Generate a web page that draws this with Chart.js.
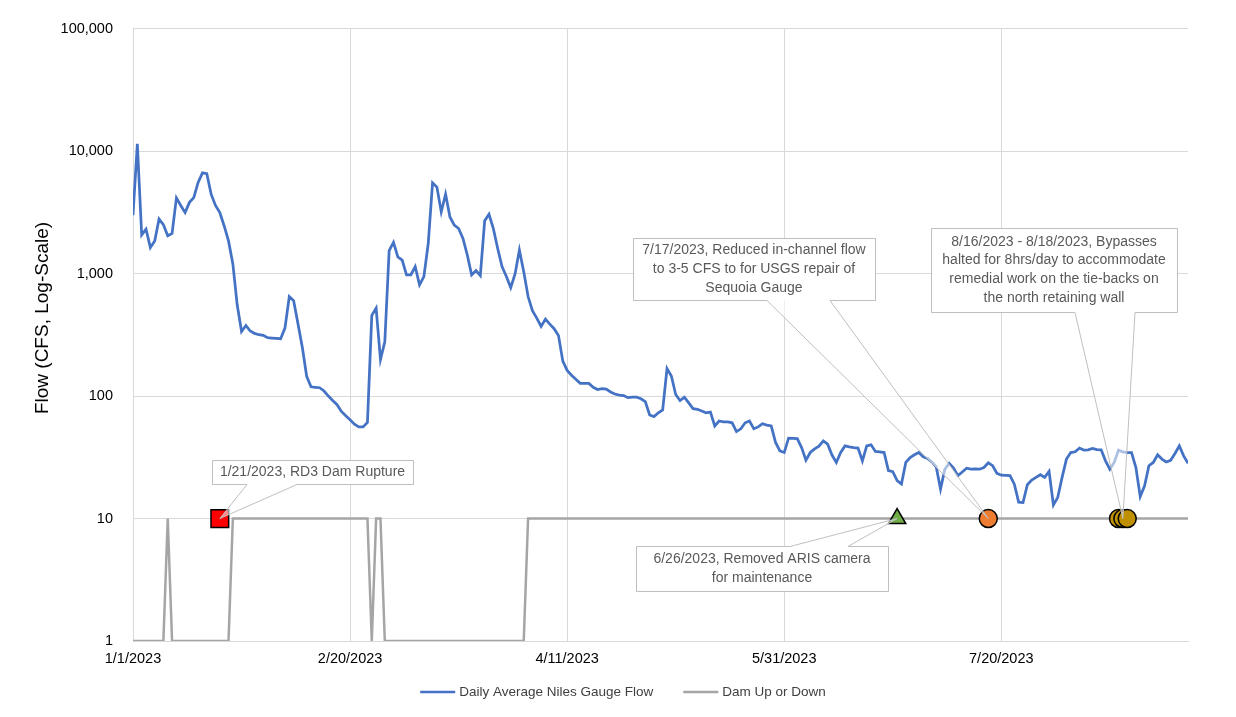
<!DOCTYPE html>
<html>
<head>
<meta charset="utf-8">
<title>Niles Gauge Flow</title>
<script src="https://cdn.jsdelivr.net/npm/chart.js@4.4.0/dist/chart.umd.min.js"></script>
<style>
  html, body { margin: 0; padding: 0; background: #fff; }
  canvas { display: block; }
</style>
</head>
<body>
<canvas id="flowChart" width="1236" height="717"></canvas>
<script>
// daily average flow at Niles gauge (CFS), one value per day from 1/1/2023
const flow = [
  3000, 11500, 2070, 2310, 1630, 1845, 2790, 2515, 2040, 2130,
  4150, 3600, 3150, 3820, 4180, 5550, 6650, 6550, 4450, 3600,
  3150, 2450, 1850, 1200, 556, 337, 377, 340, 325, 317,
  313, 300, 298, 296, 294, 359, 650, 600, 390, 250,
  145, 119, 118, 117, 110, 100, 92, 85, 75, 69,
  64, 59, 56, 56, 61, 456, 522, 199, 277, 1540,
  1800, 1370, 1290, 975, 975, 1140, 810, 946, 1760, 5520,
  5090, 3190, 4450, 2900, 2490, 2335, 1935, 1420, 975, 1058,
  963, 2700, 3055, 2335, 1606, 1140, 946, 769, 994, 1558,
  1038, 650, 498, 433, 371, 425, 387, 355, 313, 193,
  162, 148, 137, 127, 127, 127, 118, 113, 115, 114,
  108, 104, 102, 101, 97, 98, 98, 95, 90, 70,
  68, 73, 77, 168, 146, 103, 92, 98, 88, 79,
  78, 75.5, 73, 74, 57, 62.6, 61.5, 61.5, 60.5, 51.3,
  54, 60.5, 62.6, 54, 56, 59.5, 58, 57, 41.8, 35.7,
  34.6, 45.3, 45.2, 45, 38, 30, 34.6, 37, 39, 43.1,
  40.5, 33, 28.7, 34.6, 39.2, 38.5, 38, 37.6, 29.6, 39.2,
  40, 35.3, 35, 34.6, 24.6, 24.1, 20.4, 19.1, 28.7, 31.5,
  33.2, 34.6, 31.9, 31, 29, 26.5, 17.4, 25.3, 28.2, 25.8,
  22.4, 24, 25.8, 25.3, 25.4, 25.3, 26.1, 28.5, 27, 23.4,
  22.6, 22.5, 22.4, 19.1, 13.6, 13.5, 18.9, 20.6, 21.7, 22.8,
  21.7, 24.3, 12.9, 14.9, 21.7, 30.6, 34.6, 35.1, 37.6, 36.2,
  36.4, 37.4, 36.6, 36.4, 29.6, 25.3, 28.7, 36.2, 35, 34.6,
  34.6, 26.1, 15.1, 18.5, 27, 28.7, 33.2, 30.6, 29, 29.9,
  34, 39.2, 32.5, 28.3
];

// dam status: 10 = up, 1 = down
const damStatus = [
  1, 1, 1, 1, 1, 1, 1, 1, 10, 1,
  1, 1, 1, 1, 1, 1, 1, 1, 1, 1,
  1, 1, 1, 10, 10, 10, 10, 10, 10, 10,
  10, 10, 10, 10, 10, 10, 10, 10, 10, 10,
  10, 10, 10, 10, 10, 10, 10, 10, 10, 10,
  10, 10, 10, 10, 10, 1, 10, 10, 1, 1,
  1, 1, 1, 1, 1, 1, 1, 1, 1, 1,
  1, 1, 1, 1, 1, 1, 1, 1, 1, 1,
  1, 1, 1, 1, 1, 1, 1, 1, 1, 1,
  1, 10, 10, 10, 10, 10, 10, 10, 10, 10,
  10, 10, 10, 10, 10, 10, 10, 10, 10, 10,
  10, 10, 10, 10, 10, 10, 10, 10, 10, 10,
  10, 10, 10, 10, 10, 10, 10, 10, 10, 10,
  10, 10, 10, 10, 10, 10, 10, 10, 10, 10,
  10, 10, 10, 10, 10, 10, 10, 10, 10, 10,
  10, 10, 10, 10, 10, 10, 10, 10, 10, 10,
  10, 10, 10, 10, 10, 10, 10, 10, 10, 10,
  10, 10, 10, 10, 10, 10, 10, 10, 10, 10,
  10, 10, 10, 10, 10, 10, 10, 10, 10, 10,
  10, 10, 10, 10, 10, 10, 10, 10, 10, 10,
  10, 10, 10, 10, 10, 10, 10, 10, 10, 10,
  10, 10, 10, 10, 10, 10, 10, 10, 10, 10,
  10, 10, 10, 10, 10, 10, 10, 10, 10, 10,
  10, 10, 10, 10, 10, 10, 10, 10, 10, 10,
  10, 10, 10, 10
];

// event days (days after 1/1/2023), plotted on the 10 line
const ruptureDays = [20];        // 1/21
const arisDays = [176];          // 6/26
const sequoiaDays = [197];       // 7/17
const bypassDays = [227, 228, 229]; // 8/16 - 8/18
const eventLevel = 10;

const yTicks = [1, 10, 100, 1000, 10000, 100000];
const xStep = 50;

const ruptureNote = ['1/21/2023, RD3 Dam Rupture'];
const arisNote = ['6/26/2023, Removed ARIS camera', 'for maintenance'];
const sequoiaNote = ['7/17/2023, Reduced in-channel flow', 'to 3-5 CFS to for USGS repair of', 'Sequoia Gauge'];
const bypassNote = ['8/16/2023 - 8/18/2023, Bypasses', 'halted for 8hrs/day to accommodate', 'remedial work on the tie-backs on', 'the north retaining wall'];

const FONT = '"Liberation Sans", Arial, sans-serif';

function dateLabel(day) {
  const d = new Date(2023, 0, 1 + day);
  return (d.getMonth() + 1) + '/' + d.getDate() + '/' + d.getFullYear();
}

const toPoints = (arr) => arr.map((v, i) => ({ x: i, y: v }));
const eventPoints = (days) => days.map(d => ({ x: d, y: eventLevel }));

// callout boxes: pixel box + pointer base on one edge, tip goes to the event marker
const callouts = [
  { lines: ruptureNote, day: ruptureDays[0], left: 212, top: 460, width: 201, height: 24, side: 'bottom', from: 247, to: 297 },
  { lines: arisNote, day: arisDays[0], left: 636, top: 546, width: 252, height: 45, side: 'top', from: 790, to: 848 },
  { lines: sequoiaNote, day: sequoiaDays[0], left: 633, top: 238, width: 242, height: 62, side: 'bottom', from: 767, to: 830 },
  { lines: bypassNote, day: bypassDays[1], left: 931, top: 228, width: 246, height: 84, side: 'bottom', from: 1075, to: 1135 }
];

const extras = {
  id: 'extras',
  afterDraw(chart) {
    const { ctx, scales: { x, y } } = chart;
    ctx.save();

    // y axis title
    ctx.save();
    ctx.translate(43, 318);
    ctx.rotate(-Math.PI / 2);
    ctx.font = '19px ' + FONT;
    ctx.fillStyle = '#000';
    ctx.textAlign = 'center';
    ctx.textBaseline = 'middle';
    ctx.fillText('Flow (CFS, Log-Scale)', 0, 0);
    ctx.restore();

    // callouts
    callouts.forEach(c => {
      const tx = x.getPixelForValue(c.day);
      const ty = y.getPixelForValue(eventLevel);
      const l = c.left + 0.5, t = c.top + 0.5;
      const r = l + c.width, b = t + c.height;
      const edge = c.side === 'top' ? t : b;

      ctx.fillStyle = '#fff';
      ctx.fillRect(l, t, c.width, c.height);

      ctx.beginPath();
      ctx.moveTo(c.from, edge);
      ctx.lineTo(tx, ty);
      ctx.lineTo(c.to, edge);
      ctx.closePath();
      ctx.fillStyle = 'rgba(255,255,255,0.55)';
      ctx.fill();

      ctx.beginPath();
      if (c.side === 'top') {
        ctx.moveTo(l, t);
        ctx.lineTo(c.from, t);
        ctx.lineTo(tx, ty);
        ctx.lineTo(c.to, t);
        ctx.lineTo(r, t);
        ctx.lineTo(r, b);
        ctx.lineTo(l, b);
      } else {
        ctx.moveTo(l, t);
        ctx.lineTo(r, t);
        ctx.lineTo(r, b);
        ctx.lineTo(c.to, b);
        ctx.lineTo(tx, ty);
        ctx.lineTo(c.from, b);
        ctx.lineTo(l, b);
      }
      ctx.closePath();
      ctx.strokeStyle = '#bfbfbf';
      ctx.lineWidth = 1;
      ctx.stroke();

      ctx.font = '14px ' + FONT;
      ctx.fillStyle = '#595959';
      ctx.textAlign = 'center';
      ctx.textBaseline = 'middle';
      const lh = 18.8;
      const y0 = c.top + (c.height - (c.lines.length - 1) * lh) / 2;
      c.lines.forEach((s, i) => ctx.fillText(s, c.left + c.width / 2, y0 + i * lh));
    });

    // legend (line series only)
    ctx.font = '13.5px ' + FONT;
    const items = chart.data.datasets.filter(d => d.inLegend);
    const sample = 35, gap = 4, spacing = 30;
    const widths = items.map(d => sample + gap + ctx.measureText(d.label).width);
    const total = widths.reduce((a, w) => a + w, 0) + spacing * (items.length - 1);
    let lx = 623 - total / 2;
    const ly = 692;
    items.forEach((d, i) => {
      ctx.beginPath();
      ctx.moveTo(lx, ly);
      ctx.lineTo(lx + sample, ly);
      ctx.strokeStyle = d.borderColor;
      ctx.lineWidth = 2.5;
      ctx.stroke();
      ctx.fillStyle = '#404040';
      ctx.textAlign = 'left';
      ctx.textBaseline = 'middle';
      ctx.fillText(d.label, lx + sample + gap, ly);
      lx += widths[i] + spacing;
    });

    ctx.restore();
  }
};

const tickFont = { family: FONT, size: 14.5 };

new Chart(document.getElementById('flowChart').getContext('2d'), {
  type: 'line',
  data: {
    datasets: [
      {
        label: 'Daily Average Niles Gauge Flow',
        data: toPoints(flow),
        borderColor: '#4472C4',
        borderWidth: 2.75,
        pointRadius: 0,
        tension: 0,
        order: 1,
        inLegend: true
      },
      {
        label: 'Dam Up or Down',
        data: toPoints(damStatus),
        borderColor: '#A5A5A5',
        borderWidth: 2.5,
        pointRadius: 0,
        tension: 0,
        order: 2,
        inLegend: true
      },
      {
        label: 'RD3 Dam Rupture',
        data: eventPoints(ruptureDays),
        showLine: false,
        pointStyle: 'rect',
        pointRadius: 12.5,
        backgroundColor: '#FF0000',
        borderColor: '#000',
        borderWidth: 1.5,
        order: 0
      },
      {
        label: 'Removed ARIS camera',
        data: eventPoints(arisDays),
        showLine: false,
        pointStyle: 'triangle',
        pointRadius: 10,
        backgroundColor: '#70AD47',
        borderColor: '#000',
        borderWidth: 1.5,
        order: 0
      },
      {
        label: 'Sequoia Gauge repair',
        data: eventPoints(sequoiaDays),
        showLine: false,
        pointStyle: 'circle',
        pointRadius: 9,
        backgroundColor: '#ED7D31',
        borderColor: '#000',
        borderWidth: 1.5,
        order: 0
      },
      {
        label: 'Bypasses halted',
        data: eventPoints(bypassDays),
        showLine: false,
        pointStyle: 'circle',
        pointRadius: 9,
        backgroundColor: '#BF9000',
        borderColor: '#000',
        borderWidth: 1.5,
        order: 0
      }
    ]
  },
  options: {
    responsive: false,
    animation: false,
    devicePixelRatio: 1,
    layout: { padding: { left: 28, top: 18, right: 48, bottom: 41 } },
    plugins: {
      legend: { display: false },
      tooltip: { enabled: false }
    },
    scales: {
      x: {
        type: 'linear',
        min: 0,
        max: flow.length - 1,
        ticks: {
          stepSize: xStep,
          includeBounds: false,
          autoSkip: false,
          maxRotation: 0,
          padding: 9,
          color: '#000',
          font: tickFont,
          callback: v => dateLabel(v)
        },
        grid: { color: '#d9d9d9', lineWidth: 1, drawTicks: false },
        border: { color: '#d9d9d9' },
        afterFit: s => { s.height = 35; }
      },
      y: {
        type: 'logarithmic',
        min: 1,
        max: 100000,
        afterBuildTicks: s => { s.ticks = yTicks.map(v => ({ value: v })); },
        ticks: {
          padding: 20,
          color: '#000',
          font: tickFont,
          callback: v => Number(v).toLocaleString('en-US')
        },
        grid: { color: '#d9d9d9', lineWidth: 1, drawTicks: false },
        border: { color: '#d9d9d9' },
        afterFit: s => { s.width = 105; }
      }
    }
  },
  plugins: [extras]
});
</script>
</body>
</html>
